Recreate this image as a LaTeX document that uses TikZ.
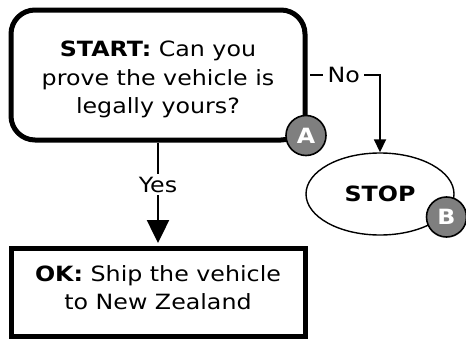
\documentclass[tikz,border=0pt]{standalone}
\usepackage{fontspec}
\setmainfont{DejaVu Sans}[FakeStretch=1.13]
\usetikzlibrary{arrows.meta,shapes.geometric}
\definecolor{badgegray}{HTML}{7F7F7F}
\begin{document}
\begin{tikzpicture}[x=1pt,y=-1pt,
  every node/.style={font=\fontsize{21}{28.5}\selectfont, inner sep=0pt},
  startbox/.style={draw, line width=5pt, rounded corners=24pt, minimum width=294pt, minimum height=130pt},
  okbox/.style={draw, line width=5pt, minimum width=294pt, minimum height=88pt},
  stopshape/.style={draw, ellipse, line width=1.4pt, minimum width=148pt, minimum height=82pt, font=\fontsize{21}{28.5}\selectfont\bfseries},
  badge/.style={draw, circle, line width=1.6pt, fill=badgegray, minimum size=40pt, text=white, font=\fontsize{21}{28.5}\selectfont\bfseries},
  linetxt/.style={anchor=base},
  yeslabel/.style={fill=white, inner xsep=2pt, inner ysep=2.5pt},
  nolabel/.style={fill=white, inner xsep=4.5pt, inner ysep=2pt},
  bigarrow/.style={line width=2.5pt, -{Triangle[length=23pt,width=22pt]}},
  smallarrow/.style={line width=1.8pt, -{Triangle[length=13pt,width=12pt]}}
]
\useasboundingbox (0,0) rectangle (466,340);
% boxes
\node[startbox] (start) at (158,75) {};
\node[linetxt] (s1) at (158,56) {\textbf{START:} Can you};
\node[linetxt] (s2) at (158,85) {prove the vehicle is};
\node[linetxt] (s3) at (158,113) {legally yours?};
\node[okbox] (ok) at (158,292) {};
\node[linetxt] (o1) at (158,281) {\textbf{OK:} Ship the vehicle};
\node[linetxt] (o2) at (158,309) {to New Zealand};
\node[stopshape] (stop) at (380,194) {STOP};
% connectors
\draw[bigarrow, shorten >=2.5pt] (start.south) -- node[yeslabel, pos=0.41] (yes) {Yes} (ok.north);
\draw[smallarrow, shorten <=2.5pt] (start.east) -| node[nolabel, pos=0.25] (no) {No} (stop.north);
% badges
\node[badge] (A) at (306,135.5) {A};
\node[badge] (B) at (446.5,217) {B};
\end{tikzpicture}
\end{document}
